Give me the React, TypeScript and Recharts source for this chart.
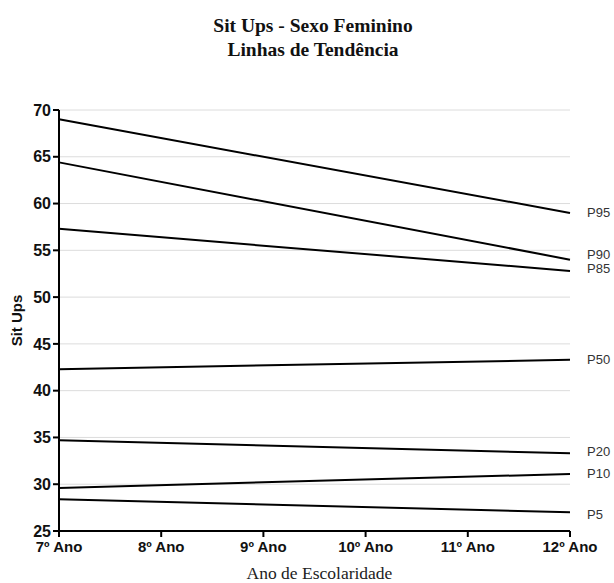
import React from "react";
import { CartesianGrid, Line, LineChart, XAxis, YAxis } from "recharts";

// anos de escolaridade
const anos = ["7º Ano", "8º Ano", "9º Ano", "10º Ano", "11º Ano", "12º Ano"];

// linhas de tendência: só os extremos (7º e 12º), o resto é ligado em linha recta
const p95 = [69.0, null, null, null, null, 59.0];
const p90 = [64.4, null, null, null, null, 54.0];
const p85 = [57.3, null, null, null, null, 52.8];
const p50 = [42.3, null, null, null, null, 43.3];
const p20 = [34.7, null, null, null, null, 33.3];
const p10 = [29.6, null, null, null, null, 31.1];
const p5 = [28.4, null, null, null, null, 27.0];

const yTicks = [25, 30, 35, 40, 45, 50, 55, 60, 65, 70];

const series = [
  { key: "P95", values: p95, shift: 0 },
  { key: "P90", values: p90, shift: -5 },
  { key: "P85", values: p85, shift: -2 },
  { key: "P50", values: p50, shift: 0 },
  { key: "P20", values: p20, shift: -2 },
  { key: "P10", values: p10, shift: 0 },
  { key: "P5", values: p5, shift: 2 },
];

const data = anos.map((ano, i) => {
  const row: any = { ano };
  series.forEach((s) => {
    row[s.key] = s.values[i];
  });
  return row;
});

const EndLabel = (name: string, shift: number) => (props: any) => {
  const { x, y, index } = props;
  if (index !== anos.length - 1) return null;
  return (
    <text
      x={x + 17}
      y={y + shift}
      dy={4.5}
      fontSize={13}
      fontFamily="Arial, 'Liberation Sans', sans-serif"
      fill="#333"
    >
      {name}
    </text>
  );
};

export default function App() {
  return (
    <div style={{ position: "absolute", left: 0, top: 0, width: 614, height: 583, background: "#fff" }}>
      <div
        style={{
          position: "absolute",
          top: 14,
          left: 0,
          width: 626,
          textAlign: "center",
          fontFamily: "'Times New Roman', 'Liberation Serif', serif",
          fontWeight: "bold",
          fontSize: 19.5,
          lineHeight: "24px",
          color: "#111",
        }}
      >
        Sit Ups - Sexo Feminino
        <br />
        Linhas de Tendência
      </div>
      <LineChart
        width={614}
        height={583}
        data={data}
        margin={{ top: 110, right: 44, bottom: 0, left: 0 }}
      >
        <CartesianGrid vertical={false} stroke="#dcdcdc" strokeWidth={1} />
        <XAxis
          dataKey="ano"
          axisLine={{ stroke: "#000", strokeWidth: 2 }}
          tickLine={{ stroke: "#000", strokeWidth: 2 }}
          tickSize={6}
          height={52}
          interval={0}
          tick={{ fill: "#111", fontSize: 15, fontWeight: "bold", fontFamily: "Arial, 'Liberation Sans', sans-serif", dy: 2 }}
          label={{
            value: "Ano de Escolaridade",
            position: "insideBottom",
            offset: 4,
            dx: 5,
            fill: "#222",
            fontSize: 17.5,
            fontFamily: "'Times New Roman', 'Liberation Serif', serif",
          }}
        />
        <YAxis
          domain={[25, 70]}
          ticks={yTicks}
          width={59}
          axisLine={{ stroke: "#000", strokeWidth: 2 }}
          tickLine={{ stroke: "#000", strokeWidth: 2 }}
          tickSize={6}
          tick={{ fill: "#111", fontSize: 16, fontWeight: "bold", fontFamily: "Arial, 'Liberation Sans', sans-serif" }}
          label={{
            value: "Sit Ups",
            angle: -90,
            position: "insideLeft",
            offset: 17,
            textAnchor: "middle",
            fill: "#111",
            fontSize: 15,
            fontWeight: "bold",
            fontFamily: "Arial, 'Liberation Sans', sans-serif",
          }}
        />
        {series.map((s) => (
          <Line
            key={s.key}
            dataKey={s.key}
            stroke="#000"
            strokeWidth={2}
            dot={false}
            connectNulls
            isAnimationActive={false}
            label={EndLabel(s.key, s.shift)}
          />
        ))}
      </LineChart>
    </div>
  );
}
